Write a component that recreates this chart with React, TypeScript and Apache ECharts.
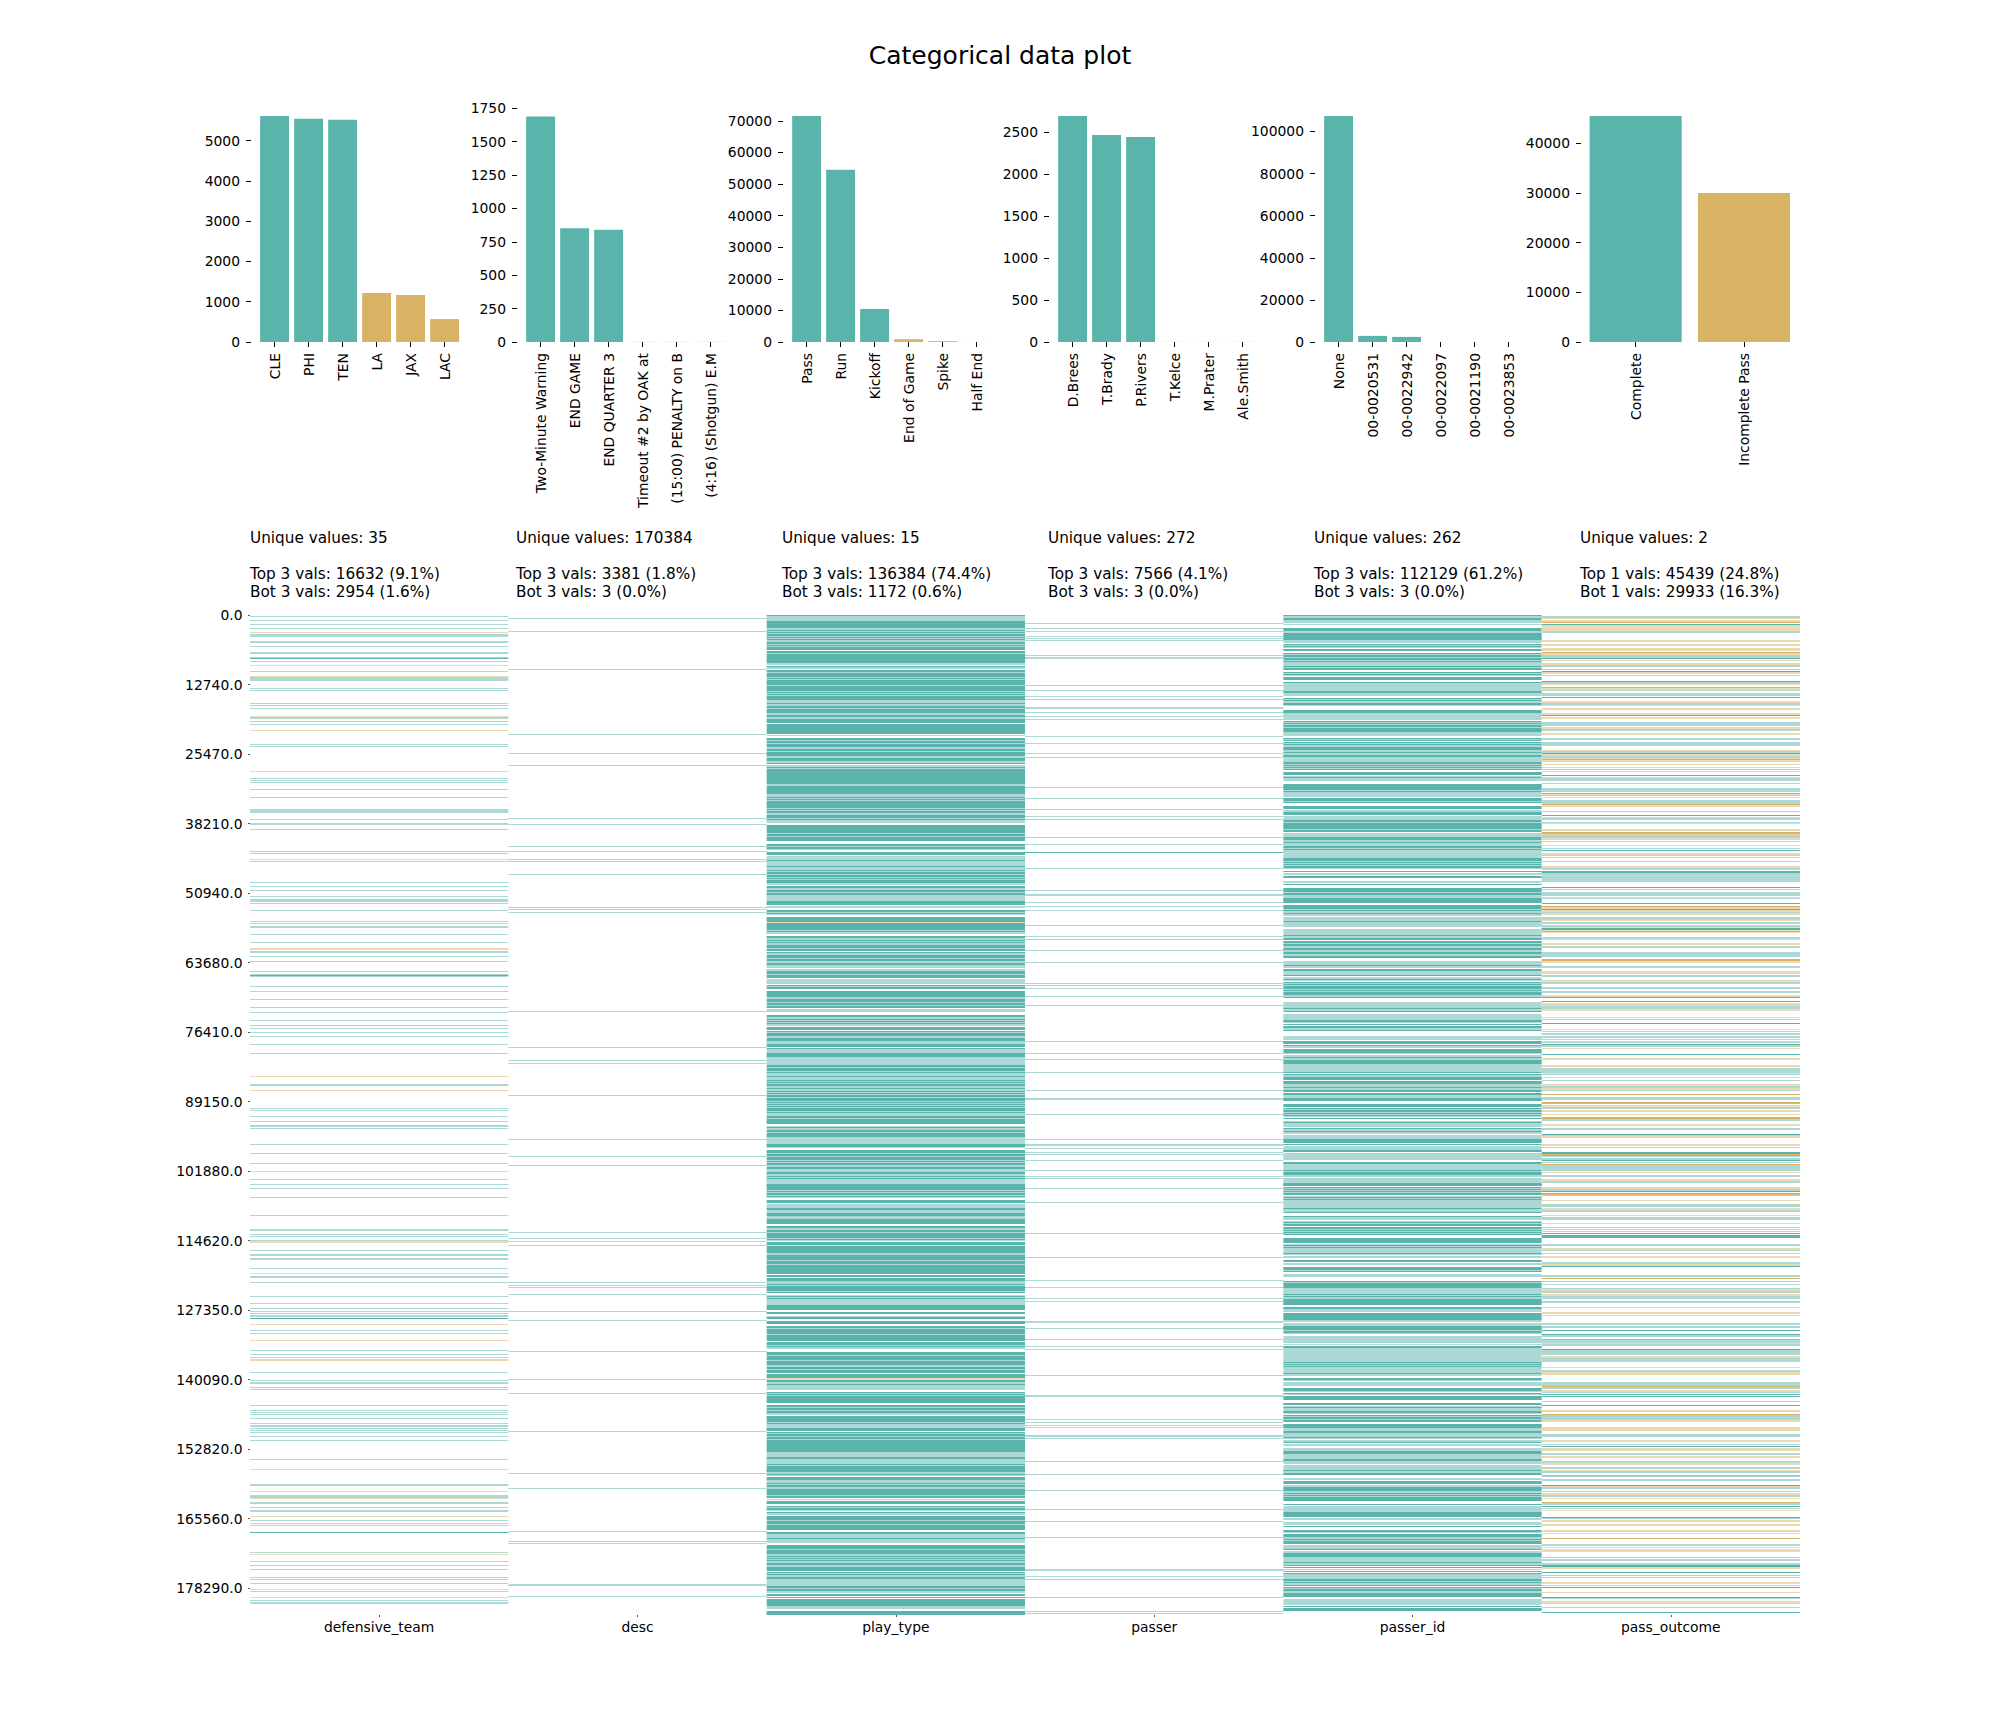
import React, { useEffect, useRef } from "react";
import * as echarts from "echarts";

const FONT = "DejaVu Sans";
const TEAL = "#5ab4ac";
const GOLD = "#d8b365";
const LEVEL_COLORS: Record<string, string> = { L: "#acd9d5", S: "#5ab4ac", G: "#ebd9b2", D: "#d8b365" };

const titleText = "Categorical data plot";
const columnNames = ["defensive_team", "desc", "play_type", "passer", "passer_id", "pass_outcome"];

// top bar charts
const teamNames = ["CLE", "PHI", "TEN", "LA", "JAX", "LAC"];
const teamCounts = [5611, 5543, 5516, 1218, 1167, 569];
const teamTicks = [0, 1000, 2000, 3000, 4000, 5000];
const descNames = ["Two-Minute Warning", "END GAME", "END QUARTER 3", "Timeout #2 by OAK at", "(15:00) PENALTY on B", "(4:16) (Shotgun) E.M"];
const descCounts = [1688, 852, 841, 1, 1, 1];
const descTicks = [0, 250, 500, 750, 1000, 1250, 1500, 1750];
const playNames = ["Pass", "Run", "Kickoff", "End of Game", "Spike", "Half End"];
const playCounts = [71530, 54520, 10470, 880, 280, 12];
const playTicks = [0, 10000, 20000, 30000, 40000, 50000, 60000, 70000];
const passerNames = ["D.Brees", "T.Brady", "P.Rivers", "T.Kelce", "M.Prater", "Ale.Smith"];
const passerCounts = [2693, 2467, 2443, 1, 1, 1];
const passerTicks = [0, 500, 1000, 1500, 2000, 2500];
const passerIdNames = ["None", "00-0020531", "00-0022942", "00-0022097", "00-0021190", "00-0023853"];
const passerIdCounts = [107300, 2900, 2429, 1, 1, 1];
const passerIdTicks = [0, 20000, 40000, 60000, 80000, 100000];
const outcomeNames = ["Complete", "Incomplete Pass"];
const outcomeCounts = [45439, 29933];
const outcomeTicks = [0, 10000, 20000, 30000, 40000];

// annotations
const uniqueLines = ["Unique values: 35", "Unique values: 170384", "Unique values: 15", "Unique values: 272", "Unique values: 262", "Unique values: 2"];
const topLines = ["Top 3 vals: 16632 (9.1%)", "Top 3 vals: 3381 (1.8%)", "Top 3 vals: 136384 (74.4%)", "Top 3 vals: 7566 (4.1%)", "Top 3 vals: 112129 (61.2%)", "Top 1 vals: 45439 (24.8%)"];
const botLines = ["Bot 3 vals: 2954 (1.6%)", "Bot 3 vals: 3 (0.0%)", "Bot 3 vals: 1172 (0.6%)", "Bot 3 vals: 3 (0.0%)", "Bot 3 vals: 3 (0.0%)", "Bot 1 vals: 29933 (16.3%)"];

// heat map rows
const TOTAL_ROWS = 183200;
const heatTicks = [0, 12740, 25470, 38210, 50940, 63680, 76410, 89150, 101880, 114620, 127350, 140090, 152820, 165560, 178290];
const ROWS_PER_SLICE = 61.0667;
const sectionStarts = [-9, 420, 849, 1278, 1707, 2136, 2565];

// Stripes, per section. Token: level letter + start-end, in row slices.
// L light teal, S full teal, G light gold, D full gold. A bare number is one thin light teal stripe.
const defensiveTeam = [
  "13 25 37 49 G60-63 L65-75 L87-93 103 L120-126 L135-142 S137-140 148 G159-162 178 G192-196 L196-207 229 235 274 280 289 G311-316 L316-320 328 337 G354-357 397 403",
  "G48-51 70 75 81 103 127 L162-174 193 L204-210 223 289 295 G312-315 319 382 394 406 424",
  "L3-12 16 37 70 76 L84-90 109 133 G150-155 L158-165 175 190 220 L227-237 S230-233 265 280 304 328 343 367 382 391 403 415",
  "10 37 G105-108 L129-135 G147-150 202 208 226 241 L252-258 262 310 337 367 G390-393 415 430",
  "1 13 40 94 L135-141 151 157 L167-171 G172-178 199 L210-216 L222-228 253 G267-270 L276-282 295 337 358 373 380 388 L393-399 S402-405 G420-423",
  "10 19 G39-42 70 82 91 G96-102 136 160 L165-171 181 187 235 250 256 262 274 289 L294-300 304 310 316 328 340 397 G426-429",
  "L42-48 G63-66 L75-84 G84-87 L96-102 112 L120-126 G138-141 151 160 166 S186-189 247 G252-255 274 286 298 322 328 340 G357-360 364 G381-384 391 L396-402",
];
const descColumn = [
  "19 58 172 367 424",
  "31 190 208 274 289 313 319 358",
  "28 34 43 340",
  "19 58 67 163 295 346 373",
  "145 163 172 184 295 304 310 331 382 409",
  "73 157 199 313",
  "10 55 184 214 220 L342-348 379",
];
const playType = [
  "L6-27 S9-12 S27-48 L48-54 S54-58 L58-60 S60-64 L64-67 S67-72 L72-74 S74-78 L78-82 S82-84 L84-90 S90-97 L97-100 S100-103 L103-106 S106-114 S117-122 L122-125 S125-153 L153-158 S161-164 L165-171 S173-180 L180-182 S182-195 L195-199 S199-202 L202-204 S204-219 L219-222 S222-237 L237-240 S240-243 L243-245 S245-248 L248-251 S251-264 L264-274 S274-277 L277-282 S282-288 L288-291 S291-303 L303-308 S308-315 L315-321 S321-333 S335-366 L369-372 S377-384 L384-387 S387-392 L392-396 S396-404 L404-411 S411-416 L416-420 S420-425 L425-427 S427-432",
  "S0-4 L4-8 S8-18 L18-24 S24-28 L30-35 S35-40 L40-42 S42-88 L88-93 S93-117 L117-126 S126-129 L129-133 S133-135 L135-138 S138-158 L158-163 S163-166 L166-168 S168-174 L174-180 S180-189 L189-192 S192-195 L195-203 S209-234 L234-238 S238-243 L243-246 S246-258 S267-272 L272-276 S276-282 L282-286 S291-300 L304-316 S316-318 L318-333 S333-336 L336-345 S345-348 L348-351 S351-357 L357-361 S361-366 L366-369 S369-373 L373-376 S376-385 L385-389 S393-400 L400-405 S405-412 L412-414 S414-420 L420-435",
  "L0-9 S9-21 L23-30 S36-42 L42-45 S45-48 L48-52 S57-72 G72-75 S75-96 L96-100 S100-103 L103-107 S114-120 L120-127 S127-130 L130-132 S132-136 L136-141 S141-150 L150-153 S153-159 S163-166 L166-170 S170-180 L180-183 S183-190 L190-195 S195-201 L201-210 L214-220 S220-228 L228-231 S231-240 L243-258 S262-264 L264-266 S266-273 S280-297 L297-303 S303-312 L312-316 S316-320 L320-324 S324-330 L332-343 S350-358 L358-362 S362-366 L366-369 S369-372 L372-375 S375-378 L378-383 S387-396 S399-402 L402-404 S404-415 L415-420 S420-429 L429-435",
  "L0-9 S9-18 S20-23 L23-36 S36-48 L48-72 S72-78 L78-80 S80-90 L90-94 S94-97 L97-105 S105-108 L108-117 S117-120 L120-123 S123-126 L126-129 S129-135 L135-140 S140-144 L144-150 S150-153 L153-156 S156-159 L159-162 S162-168 L168-171 S171-180 L180-183 S183-186 L186-189 S189-192 L192-195 S195-198 L198-201 S201-210 L210-213 S213-217 L217-224 S224-232 L232-235 S235-249 L255-258 S258-262 L262-266 S266-273 L273-276 S276-288 L288-309 S309-318 L318-321 S326-336 L336-339 S339-345 L345-348 S348-356 L356-360 S360-364 L364-367 S367-372 L372-378 S378-384 L384-392 S392-400 L400-404 S404-407 L407-410 S410-413 L413-416 S416-418 L418-432 S432-435",
  "S0-18 L18-21 S21-25 L25-27 S27-33 L33-36 S36-39 L39-42 S48-57 L60-72 S72-78 L78-87 S87-96 L96-105 S105-120 S126-132 L132-138 S138-144 L144-147 S147-162 L162-165 S165-168 L168-172 S173-183 G183-187 S187-207 L207-212 S212-228 L228-231 S231-240 L240-243 S243-270 S273-280 S282-291 L291-300 S300-303 L303-306 S306-321 L321-324 S324-327 L333-337 S337-340 L340-343 S343-346 L346-363 S363-378 S383-385 S388-391 L397-400 S400-405 S410-421 S426-432",
  "S0-3 L3-6 S6-20 L20-24 S24-42 S45-54 L54-58 S58-61 L61-66 S74-85 L85-88 S88-98 L98-102 S102-114 L114-120 S120-126 L126-129 S129-138 S142-153 G153-160 S160-165 L165-170 S170-175 L175-190 S194-197 L197-200 S200-204 L204-208 S208-228 S234-240 L240-243 S243-248 L248-253 S253-258 L258-264 S266-285 L285-288 S288-292 L292-304 S304-312 S314-318 L318-322 S322-326 L326-330 S330-336 L336-340 S340-375 L375-390 S390-396 L396-404 S404-406 L406-410 S410-413 L413-416 S416-435",
  "S0-6 L6-12 S12-15 L15-18 S20-30 L30-39 S39-42 L42-45 S45-52 L52-57 S57-75 L75-78 S78-84 L88-90 S93-103 S108-112 L112-115 S115-120 L120-123 S127-130 L130-134 S137-150 L150-153 S153-162 L162-165 S165-180 S185-192 L192-204 S204-208 L208-212 S212-214 L214-220 S224-237 L237-240 S240-252 L252-258 S258-261 L261-265 S265-268 L268-271 S271-274 L274-278 S279-285 L285-291 S291-303 S307-310 L310-312 S312-316 L316-320 S320-328 L328-348 S348-354 L354-358 S358-362 L362-368 S373-378 S381-384 S387-407 L407-417 S422-435",
];
const passerColumn = [
  "34 49 57 73 79 85 L129-132 L135-141 220 235 253 262 L285-291 301 313 321 373 393 424",
  "7 97 130 163 184 193 247 268 S291-294 340 406 L417-423",
  "13 25 37 82 115 124 157 193 256 262 271 295 322 430",
  "0 37 55 94 148 L171-177 220 295 L309-315 321 334 340 358 388 406 412",
  "13 55 148 220 289 310 343 352 L411-417 433",
  "4 37 58 67 145 L205-210 277 286 295 301 L324-330 334 403",
  "13 61 118 154 202 L297-303 319 328 382 424 430",
];
const passerId = [
  "S6-12 L12-18 S18-24 L24-33 L36-38 S47-50 L50-52 S52-56 L58-62 S62-84 L84-94 S96-99 L99-101 S101-105 L105-109 S112-116 S122-126 L126-130 S130-134 L134-139 S139-143 L143-147 S147-151 L151-163 S163-166 L166-168 S168-175 S179-183 L183-187 S187-190 L190-193 S194-205 S209-212 L212-237 S237-243 L243-252 S258-261 L261-265 S265-268 L268-273 S273-278 L278-282 S293-304 L304-324 S327-330 L330-333 S333-336 L336-339 S339-344 L344-347 S347-356 S358-361 L361-373 S377-380 L380-383 S383-386 S389-392 L392-395 S396-399 L399-405 S405-414 L414-420 S420-424 L424-430 S430-435",
  "S0-3 L6-21 S21-27 L27-30 S30-33 L33-36 S36-39 L39-42 S42-46 S50-60 L64-67 S66-70 L70-78 S86-98 S100-104 L104-108 S108-112 L112-116 L118-125 S128-138 L138-142 S142-145 S154-162 L165-170 S170-180 L182-194 S196-200 L200-204 S204-222 L222-226 S226-230 L234-245 S246-256 L256-260 S260-263 L263-272 S272-278 L278-282 S282-286 L286-290 L292-308 S308-318 L318-321 S321-324 L324-327 S327-331 L331-334 S334-338 L338-342 S348-351 L354-360 S362-368 L378-385 S386-389 S399-410 L410-415 S415-420 L420-428 S430-435",
  "S3-15 S21-33 L33-36 S36-40 L40-45 S45-48 L48-53 L57-69 S69-72 L72-87 L93-111 S111-113 L113-120 S120-126 S129-135 L135-138 S138-144 L144-150 S150-156 L156-162 S162-168 L168-174 S174-180 L190-200 S200-204 L204-210 S213-219 L219-231 S231-234 L237-243 S243-246 L246-250 S252-255 L255-258 S259-262 L262-265 S265-272 L272-276 S276-280 L280-282 S282-292 L292-296 S296-300 L312-330 S330-334 L334-340 S340-343 L348-365 S365-372 L372-375 S377-380 S384-390 L390-395 S395-398 L414-425 S428-435",
  "S0-9 L12-20 S12-15 S25-36 L36-39 L42-48 S48-52 L52-56 S56-69 L69-80 S80-82 L82-93 S93-96 S100-102 L102-108 S108-117 S120-130 L130-138 S138-141 L141-147 S147-153 S155-158 S160-163 L163-170 S172-180 S188-198 S201-204 L204-208 S208-212 L212-216 S216-219 L219-222 S222-226 L226-228 S230-234 L240-244 S244-247 L247-258 S260-264 L264-270 S270-273 L273-278 L282-294 S294-306 S309-312 L315-327 S327-332 L336-357 S362-369 L369-387 S387-390 L390-393 S393-402 L402-408 L411-426 S426-435",
  "S0-6 S9-12 L12-15 S15-18 L18-20 S21-24 L24-28 S28-32 L36-39 S39-42 L42-45 S45-48 L48-72 S72-75 L75-85 S85-88 S95-98 L98-108 L110-113 S113-116 L116-120 S120-126 S130-134 L134-137 S137-140 L140-143 S143-146 L146-149 S149-153 S162-177 L180-183 S183-186 L186-190 S190-193 L193-206 S207-210 L210-214 L215-222 S228-234 L238-242 S250-258 L258-261 S261-264 L269-279 S290-293 L293-298 S298-312 L312-330 S330-333 L333-336 S336-339 L339-345 S345-363 S370-374 L374-385 S387-408 L408-414 L416-426 S426-435",
  "S0-9 L9-12 S12-18 L18-22 L26-48 L50-54 S57-63 L63-105 S105-108 L108-112 S112-114 L114-118 S118-120 L120-138 S138-141 L141-147 S152-158 L158-162 L165-177 S182-192 L192-196 S198-201 L201-205 S206-219 S228-234 L237-240 S240-243 L243-252 S252-258 L258-262 S264-267 L267-270 S270-276 L276-280 S280-284 S292-303 L303-312 S312-318 L318-330 S330-333 L333-336 L340-345 S345-348 L352-357 L362-372 S372-380 L380-396 S396-402 L402-411 L414-422 L424-428 S428-432",
  "S0-3 L3-9 S9-15 L24-30 S33-42 L46-52 S52-63 L63-68 S68-72 L72-75 S75-78 L78-82 S82-93 S101-105 L108-117 L118-126 S126-141 L143-150 L155-166 S167-170 S181-185 L185-189 S191-200 L200-206 S206-210 L210-214 S214-221 L224-237 S237-241 L244-248 S249-261 L261-276 S277-280 L280-284 S285-288 S292-294 L296-300 S303-306 S309-312 L312-327 S327-333 L333-336 S336-340 L340-345 S345-348 S351-354 L354-356 S358-362 L362-368 S368-381 L387-405 S408-411 S414-423",
];
const passOutcome = [
  "L13-17 G17-20 G25-30 D30-33 S36-40 G40-57 L57-63 G84-90 G97-101 G108-118 D120-123 G123-130 L130-138 S138-141 G144-148 G152-160 L160-166 L170-175 S177-179 G180-185 L188-192 S206-210 L210-215 G215-219 D225-228 G228-233 L233-238 L244-252 S254-258 G268-272 L274-278 G278-282 G288-294 G303-308 S308-311 G316-321 L330-341 G345-352 L352-356 G362-368 L378-383 L390-402 G414-418 L418-423 S424-427 G427-432",
  "L3-8 G10-13 D13-15 G15-22 G26-30 G36-39 L41-44 G48-52 S60-62 G66-70 L70-78 L84-88 L100-104 L106-112 D113-117 G117-120 L120-124 G125-130 L135-148 D148-151 G151-155 L167-171 S180-183 G186-190 L190-194 L200-203 G204-207 G222-228 D232-236 G236-239 L239-248 G250-255 L258-262 G270-274 L278-283 S285-288 G294-299 L299-303 L306-309 L318-322 G333-338 L340-345 S349-353 L353-360 G360-364 L364-381 S395-398 L402-405 L412-416 L418-422 G426-430",
  "L0-4 S15-18 D24-27 G27-32 S33-36 G36-42 L42-46 G46-52 L58-65 G65-70 L72-78 L82-86 G86-90 S90-95 G95-100 D100-103 G103-106 L118-122 G123-127 G136-140 L145-150 L162-170 L172-177 D184-190 G190-196 L205-210 G220-228 L232-238 G246-252 L252-258 L268-272 L280-284 G291-298 S298-300 S309-312 G316-324 L324-332 G332-340 G357-360 L362-366 S374-377 G392-397 L398-403 L405-412 L414-420 L422-426 G428-435",
  "L3-6 S9-13 L13-17 G20-24 S39-42 G50-56 G72-78 L82-95 G96-98 L98-102 G108-112 L117-120 G130-135 L136-140 G142-147 L147-150 D160-163 L167-178 D182-189 G192-198 L198-204 G207-212 G218-222 D229-233 L235-240 G248-254 L262-266 S278-282 L282-285 G285-291 G310-315 L318-322 S334-338 D339-344 L345-348 L352-358 S358-360 L362-366 D369-372 L372-390 G392-394 L402-408 G414-420 L420-426",
  "G9-15 L15-21 S21-24 D28-33 L33-36 G48-51 L60-69 G72-78 L78-84 G93-96 L98-108 G117-120 L128-132 L134-138 L140-144 S147-151 S153-162 L180-186 G192-197 L197-202 L208-211 G216-222 L235-240 G240-246 S246-249 L274-280 D281-285 L291-294 L300-304 L312-316 G316-320 L322-326 G330-335 L337-345 L352-356 G369-372 G384-390 G392-395 L417-423 L427-432",
  "L0-3 S9-12 S20-24 L24-30 D35-39 L39-48 G48-52 L52-58 S66-69 L69-85 G88-93 L93-105 G120-124 L128-135 G135-144 L165-177 D177-180 L180-186 G190-195 L195-198 S200-204 S206-209 L222-226 S234-237 G250-254 D262-265 L265-280 G280-284 G299-311 L320-330 G339-345 L350-354 S357-360 G362-372 L378-384 G388-393 L402-407 G407-415 L420-425 G430-435",
  "L3-9 D14-17 L18-21 L27-33 S44-47 G47-52 L52-58 L62-66 G70-74 L76-80 G84-87 D95-100 L100-104 S108-111 L114-118 G120-124 S141-144 L144-147 G150-155 G162-168 G180-185 G188-190 D204-207 L222-228 G231-234 G238-246 L262-265 L267-273 L280-284 S285-290 G291-296 S306-309 L315-319 L322-325 G336-341 L345-349 S351-354 G365-369 S381-384 L384-388 G394-402 L410-414 S426-429",
];
const heatColumns = [defensiveTeam, descColumn, playType, passerColumn, passerId, passOutcome];

function stripesFor(col: number, sections: string[]) {
  const out: any[] = [];
  sections.forEach((text, s) => {
    text.split(" ").forEach((tok) => {
      const m = tok.match(/^([SLGD]?)(\d+)(?:-(\d+))?$/);
      if (!m) return;
      const a = Number(m[2]);
      const b = m[3] ? Number(m[3]) : a + 3;
      const start = Math.max(0, (sectionStarts[s] + a) * ROWS_PER_SLICE);
      const end = Math.min(TOTAL_ROWS, (sectionStarts[s] + b) * ROWS_PER_SLICE);
      if (end > start) out.push({ value: [col, start, end], level: m[1] || "L" });
    });
  });
  return out;
}

const barCharts = [
  { names: teamNames, counts: teamCounts, ticks: teamTicks, teal: 3 },
  { names: descNames, counts: descCounts, ticks: descTicks, teal: 3 },
  { names: playNames, counts: playCounts, ticks: playTicks, teal: 3 },
  { names: passerNames, counts: passerCounts, ticks: passerTicks, teal: 3 },
  { names: passerIdNames, counts: passerIdCounts, ticks: passerIdTicks, teal: 3 },
  { names: outcomeNames, counts: outcomeCounts, ticks: outcomeTicks, teal: 1 },
];

export default function App() {
  const ref = useRef<HTMLDivElement>(null);
  useEffect(() => {
    document.body.style.margin = "0";
    const chart = echarts.init(ref.current!, undefined, { renderer: "svg" });
    const grid: any[] = [];
    const xAxis: any[] = [];
    const yAxis: any[] = [];
    const series: any[] = [];
    const graphic: any[] = [];

    barCharts.forEach((c, i) => {
      const two = c.names.length === 2;
      const axisLeft = 251 + 266 * i;
      const left = two ? axisLeft + 0.5 : axisLeft + 6.6;
      const width = two ? 216.6 : 204;
      const isDesc = i === 1;
      grid.push({ left, width, top: isDesc ? 108.2 : 116, height: isDesc ? 233.8 : 226 });
      xAxis.push({
        gridIndex: i,
        type: "category",
        data: c.names,
        axisLine: { show: false, onZero: false },
        axisTick: { show: true, alignWithLabel: true, length: 5, lineStyle: { color: "#000", width: 1 } },
        axisLabel: { rotate: 90, interval: 0, margin: 11, padding: [0, 0, 4, 0], fontFamily: FONT, fontSize: 13.89, color: "#000", hideOverlap: false },
      });
      yAxis.push({
        gridIndex: i,
        type: "value",
        min: 0,
        max: isDesc ? 1750 : c.counts[0],
        offset: left - axisLeft,
        splitLine: { show: false },
        axisLine: { show: false },
        axisTick: { show: true, length: 5, lineStyle: { color: "#000", width: 1 }, customValues: c.ticks },
        axisLabel: { margin: 11, fontFamily: FONT, fontSize: 13.89, color: "#000", customValues: c.ticks, formatter: (v: number) => String(v) },
      });
      series.push({
        type: "bar",
        xAxisIndex: i,
        yAxisIndex: i,
        barWidth: "85%",
        silent: true,
        data: c.counts.map((v, k) => ({ value: v, itemStyle: { color: k < c.teal ? TEAL : GOLD } })),
      });
      const textX = 250 + 266 * i;
      [[uniqueLines[i], 538], [topLines[i], 574], [botLines[i], 592]].forEach(([t, y]) => {
        graphic.push({
          type: "text",
          x: textX,
          y,
          style: { text: t, font: `15.28px "${FONT}"`, fill: "#000", textAlign: "left", textVerticalAlign: "middle" },
        });
      });
    });

    // heat map
    grid.push({ left: 250, width: 1550, top: 615, height: 1000 });
    xAxis.push({
      gridIndex: 6,
      type: "category",
      data: columnNames,
      axisLine: { show: false, onZero: false },
      axisTick: { show: true, alignWithLabel: true, length: 2, lineStyle: { color: "#555", width: 1 } },
      axisLabel: { interval: 0, margin: 5, fontFamily: FONT, fontSize: 13.89, color: "#000" },
    });
    yAxis.push({
      gridIndex: 6,
      type: "value",
      inverse: true,
      min: 0,
      max: TOTAL_ROWS,
      splitLine: { show: false },
      axisLine: { show: false },
      axisTick: { show: true, length: 2, lineStyle: { color: "#555", width: 1 }, customValues: heatTicks },
      axisLabel: { margin: 7.5, fontFamily: FONT, fontSize: 13.89, color: "#000", customValues: heatTicks, formatter: (v: number) => v.toFixed(1) },
    });
    const stripes = heatColumns.flatMap((sections, c) => stripesFor(c, sections));
    series.push({
      type: "custom",
      xAxisIndex: 6,
      yAxisIndex: 6,
      silent: true,
      clip: true,
      encode: { x: 0, y: [1, 2] },
      data: stripes,
      renderItem: (params: any, api: any) => {
        const col = api.value(0);
        const top = api.coord([col, api.value(1)]);
        const bottom = api.coord([col, api.value(2)]);
        const w = api.size([1, 0])[0];
        const y0 = Math.round(top[1]);
        const y1 = Math.max(y0 + 1, Math.round(bottom[1]));
        const level = stripes[params.dataIndex].level;
        return {
          type: "rect",
          shape: { x: top[0] - w / 2, y: y0, width: w, height: y1 - y0 },
          style: { fill: LEVEL_COLORS[level] },
        };
      },
    });

    graphic.push({
      type: "text",
      x: 1000,
      y: 55.5,
      style: { text: titleText, font: `25px "${FONT}"`, fill: "#000", textAlign: "center", textVerticalAlign: "middle" },
    });

    chart.setOption({ animation: false, backgroundColor: "#fff", grid, xAxis, yAxis, series, graphic });
    return () => chart.dispose();
  }, []);
  return <div ref={ref} style={{ position: "fixed", left: 0, top: 0, width: 2000, height: 1719 }} />;
}
